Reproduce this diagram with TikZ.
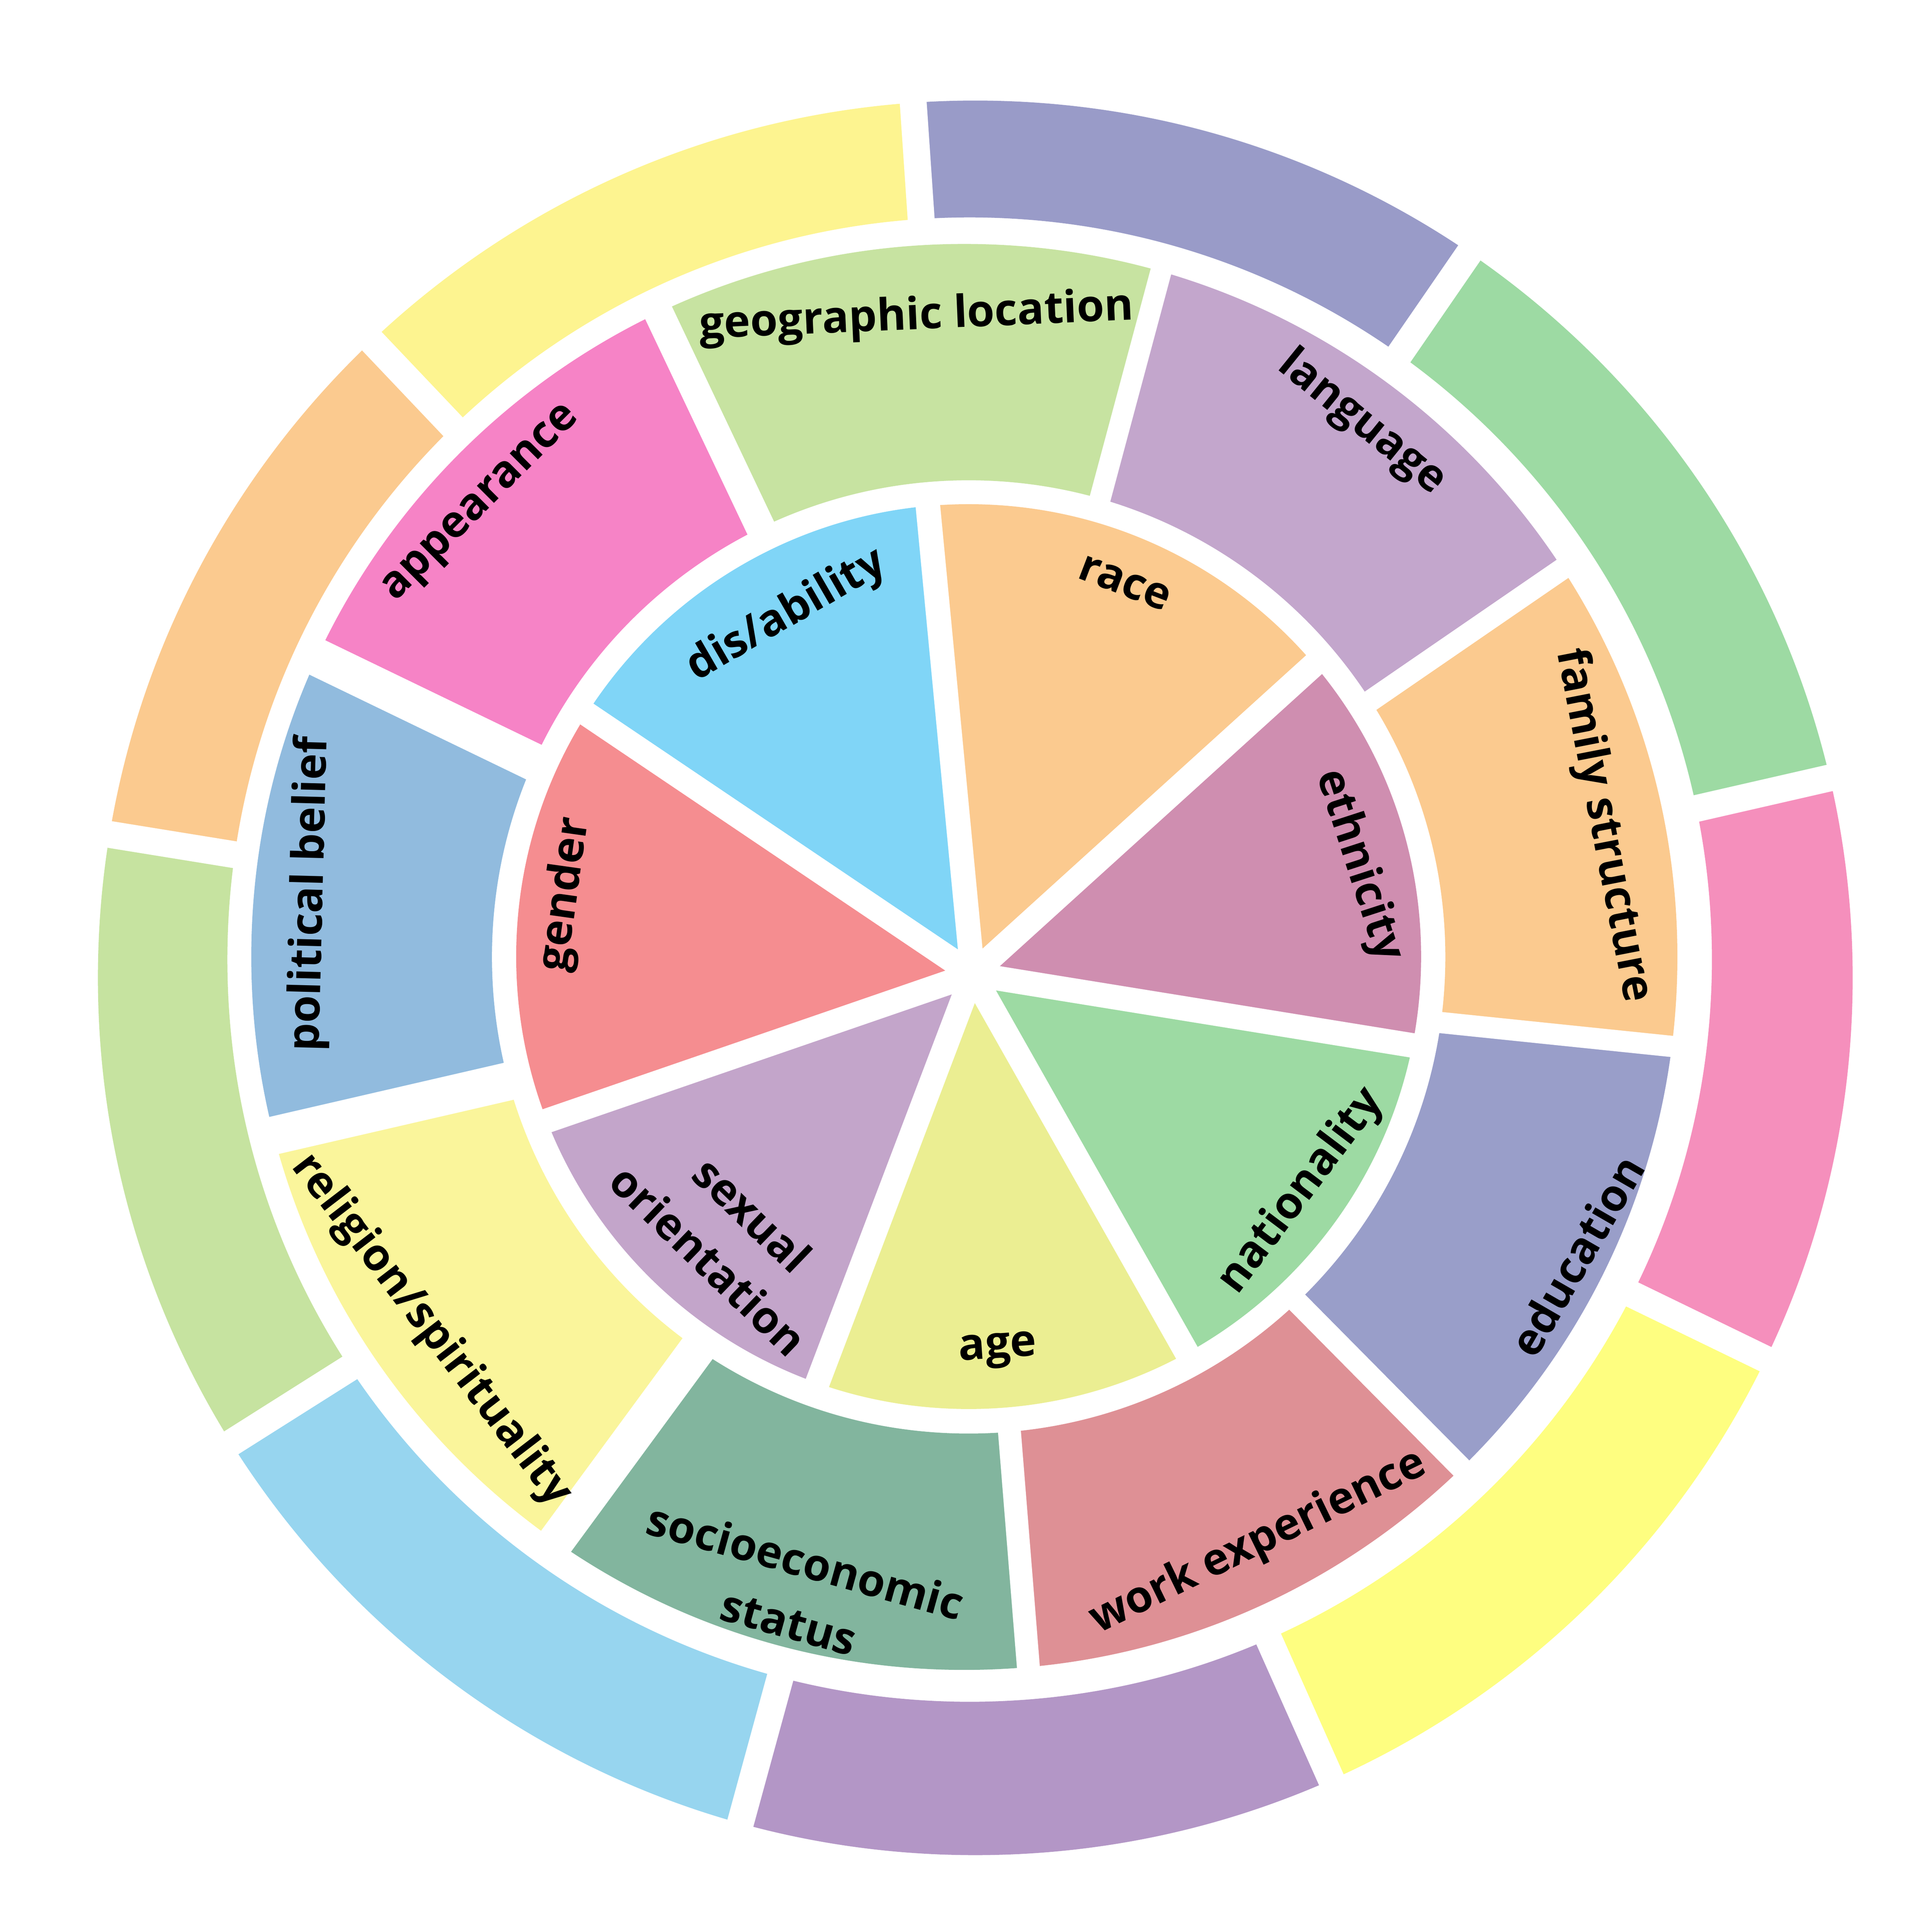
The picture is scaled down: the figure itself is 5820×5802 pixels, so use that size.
\documentclass[tikz,border=0pt]{standalone}
\usepackage{fontspec}
\IfFontExistsTF{Open Sans SemiBold}
  {\newfontfamily\labfont{Open Sans SemiBold}}
  {\newfontfamily\labsans{Open Sans}\newcommand{\labfont}{\labsans\bfseries}}

\definecolor{disab}{HTML}{80D5F7}
\definecolor{race}{HTML}{FBCA8F}
\definecolor{ethn}{HTML}{CF8EB0}
\definecolor{natl}{HTML}{9DDAA3}
\definecolor{age}{HTML}{EBEE92}
\definecolor{sexor}{HTML}{C3A5CA}
\definecolor{gend}{HTML}{F58D90}
\definecolor{geo}{HTML}{C7E3A1}
\definecolor{lang}{HTML}{C3A6CC}
\definecolor{fam}{HTML}{FBCA8F}
\definecolor{edu}{HTML}{999EC9}
\definecolor{work}{HTML}{DE9095}
\definecolor{socio}{HTML}{82B59E}
\definecolor{relig}{HTML}{FAF59B}
\definecolor{polit}{HTML}{91BBDE}
\definecolor{appear}{HTML}{F683C6}
\definecolor{oyelA}{HTML}{FDF490}
\definecolor{opurA}{HTML}{999BC8}
\definecolor{ogreA}{HTML}{9DDAA3}
\definecolor{opink}{HTML}{F58FBC}
\definecolor{oyelB}{HTML}{FEFE80}
\definecolor{opurB}{HTML}{B396C6}
\definecolor{oblue}{HTML}{97D5EF}
\definecolor{ogreB}{HTML}{C6E3A0}
\definecolor{oorange}{HTML}{FBCA8F}

\newcommand{\sliceclip}[2]{\clip (0,0) -- (#1:3000) arc[start angle=#1, end angle=#2, radius=3000] -- cycle;}

\begin{document}
\begin{tikzpicture}[x=0.01cm, y=0.01cm,
    lab/.style={font=\labfont\fontsize{38}{54}\selectfont, align=center, inner sep=0pt, text=black},
    ingap/.style={white, line width=0.74cm},
    outgap/.style={white, line width=0.81cm}]
        \useasboundingbox (-2930,-2867) rectangle (2890,2935);

        \begin{scope}\sliceclip{55.45}{93.9}\fill[opurA, even odd rule] (8,-11) circle[radius=2643] (-9,44) circle[radius=2236];\end{scope}
        \begin{scope}\sliceclip{93.9}{133.5}\fill[oyelA, even odd rule] (8,-11) circle[radius=2643] (-9,44) circle[radius=2236];\end{scope}
        \begin{scope}\sliceclip{133.5}{170.8}\fill[oorange, even odd rule] (8,-11) circle[radius=2643] (-9,44) circle[radius=2236];\end{scope}
        \begin{scope}\sliceclip{170.8}{212.3}\fill[ogreB, even odd rule] (8,-11) circle[radius=2643] (-9,44) circle[radius=2236];\end{scope}
        \begin{scope}\sliceclip{212.3}{254.7}\fill[oblue, even odd rule] (8,-11) circle[radius=2643] (-9,44) circle[radius=2236];\end{scope}
        \begin{scope}\sliceclip{254.7}{294}\fill[opurB, even odd rule] (8,-11) circle[radius=2643] (-9,44) circle[radius=2236];\end{scope}
        \begin{scope}\sliceclip{294}{334.1}\fill[oyelB, even odd rule] (8,-11) circle[radius=2643] (-9,44) circle[radius=2236];\end{scope}
        \begin{scope}\sliceclip{334.1}{372.9}\fill[opink, even odd rule] (8,-11) circle[radius=2643] (-9,44) circle[radius=2236];\end{scope}
        \begin{scope}\sliceclip{12.9}{55.45}\fill[ogreA, even odd rule] (8,-11) circle[radius=2643] (-9,44) circle[radius=2236];\end{scope}

        \draw[outgap] (0,0) -- (55.45:2760);
        \draw[outgap] (0,0) -- (93.9:2760);
        \draw[outgap] (0,0) -- (133.5:2760);
        \draw[outgap] (0,0) -- (170.8:2760);
        \draw[outgap] (0,0) -- (212.3:2760);
        \draw[outgap] (0,0) -- (254.7:2760);
        \draw[outgap] (0,0) -- (294:2760);
        \draw[outgap] (0,0) -- (334.1:2760);
        \draw[outgap] (0,0) -- (12.9:2760);

        \begin{scope}\sliceclip{75}{115.4}\fill[geo, even odd rule] (-25,52) circle[radius=2148] (-12,52) circle[radius=1436];\end{scope}
        \begin{scope}\sliceclip{115.4}{154.2}\fill[appear, even odd rule] (-25,52) circle[radius=2148] (-12,52) circle[radius=1436];\end{scope}
        \begin{scope}\sliceclip{154.2}{193}\fill[polit, even odd rule] (-25,52) circle[radius=2148] (-12,52) circle[radius=1436];\end{scope}
        \begin{scope}\sliceclip{193}{233.7}\fill[relig, even odd rule] (-25,52) circle[radius=2148] (-12,52) circle[radius=1436];\end{scope}
        \begin{scope}\sliceclip{233.7}{274.6}\fill[socio, even odd rule] (-25,52) circle[radius=2148] (-12,52) circle[radius=1436];\end{scope}
        \begin{scope}\sliceclip{274.6}{314.7}\fill[work, even odd rule] (-25,52) circle[radius=2148] (-12,52) circle[radius=1436];\end{scope}
        \begin{scope}\sliceclip{314.7}{354.1}\fill[edu, even odd rule] (-25,52) circle[radius=2148] (-12,52) circle[radius=1436];\end{scope}
        \begin{scope}\sliceclip{354.1}{394.5}\fill[fam, even odd rule] (-25,52) circle[radius=2148] (-12,52) circle[radius=1436];\end{scope}
        \begin{scope}\sliceclip{34.5}{75}\fill[lang, even odd rule] (-25,52) circle[radius=2148] (-12,52) circle[radius=1436];\end{scope}

        \draw[white, line width=0.89cm] (0,0) -- (115.4:2243);
        \draw[white, line width=0.64cm] (0,0) -- (75:2234);
        \draw[white, line width=0.65cm] (0,0) -- (34.5:2205);
        \draw[white, line width=0.64cm] (0,0) -- (-5.9:2170);
        \draw[white, line width=0.66cm] (0,0) -- (-45.3:2146);
        \draw[white, line width=0.69cm] (0,0) -- (-85.4:2143);
        \draw[white, line width=1.10cm] (0,0) -- (-126.3:2164);
        \draw[white, line width=1.15cm] (0,0) -- (-167:2197);
        \draw[white, line width=1.14cm] (0,0) -- (154.2:2228);

        \begin{scope}\sliceclip{95.46}{146}\fill[disab] (-12,53) circle[radius=1363];\end{scope}
        \begin{scope}\sliceclip{146}{199}\fill[gend] (-12,53) circle[radius=1363];\end{scope}
        \begin{scope}\sliceclip{199}{249.2}\fill[sexor] (-12,53) circle[radius=1363];\end{scope}
        \begin{scope}\sliceclip{249.2}{299.5}\fill[age] (-12,53) circle[radius=1363];\end{scope}
        \begin{scope}\sliceclip{299.5}{350.8}\fill[natl] (-12,53) circle[radius=1363];\end{scope}
        \begin{scope}\sliceclip{350.8}{402.2}\fill[ethn] (-12,53) circle[radius=1363];\end{scope}
        \begin{scope}\sliceclip{42.2}{95.46}\fill[race] (-12,53) circle[radius=1363];\end{scope}

        \draw[ingap] (0,0) -- (95.46:1453);
        \draw[ingap] (0,0) -- (42.2:1426);
        \draw[ingap] (0,0) -- (-9.2:1380);
        \draw[ingap] (0,0) -- (-60.5:1348);
        \draw[ingap] (0,0) -- (-110.8:1355);
        \draw[ingap] (0,0) -- (-161:1394);
        \draw[ingap] (0,0) -- (146:1439);

        \node[lab, rotate=30] (disab) at (-560,1080) {dis/ability};
        \node[lab, rotate=-21] (race) at (458,1178) {race};
        \node[lab, rotate=-72] (ethn) at (1162,327) {ethnicity};
        \node[lab, rotate=53] (natl) at (991,-654) {nationality};
        \node[lab, rotate=4] (age) at (76,-1135) {age};
        \node[lab, rotate=-44] (sexor) at (-729,-792) {sexual\\orientation};
        \node[lab, rotate=82] (gend) at (-1226,240) {gender};

        \node[lab, rotate=2.5] (geo) at (-169,1978) {geographic location};
        \node[lab, rotate=-39] (lang) at (1172,1661) {language};
        \node[lab, rotate=-79] (fam) at (1898,448) {family structure};
        \node[lab, rotate=60] (edu) at (1819,-848) {education};
        \node[lab, rotate=26] (work) at (861,-1713) {work experience};
        \node[lab, rotate=-15.5] (socio) at (-528,-1859) {socioeconomic\\status};
        \node[lab, rotate=-52.5] (relig) at (-1632,-1073) {religion/spirituality};
        \node[lab, rotate=88.5] (polit) at (-1993,242) {political belief};
        \node[lab, rotate=45] (appear) at (-1476,1414) {appearance};
\end{tikzpicture}
\end{document}
